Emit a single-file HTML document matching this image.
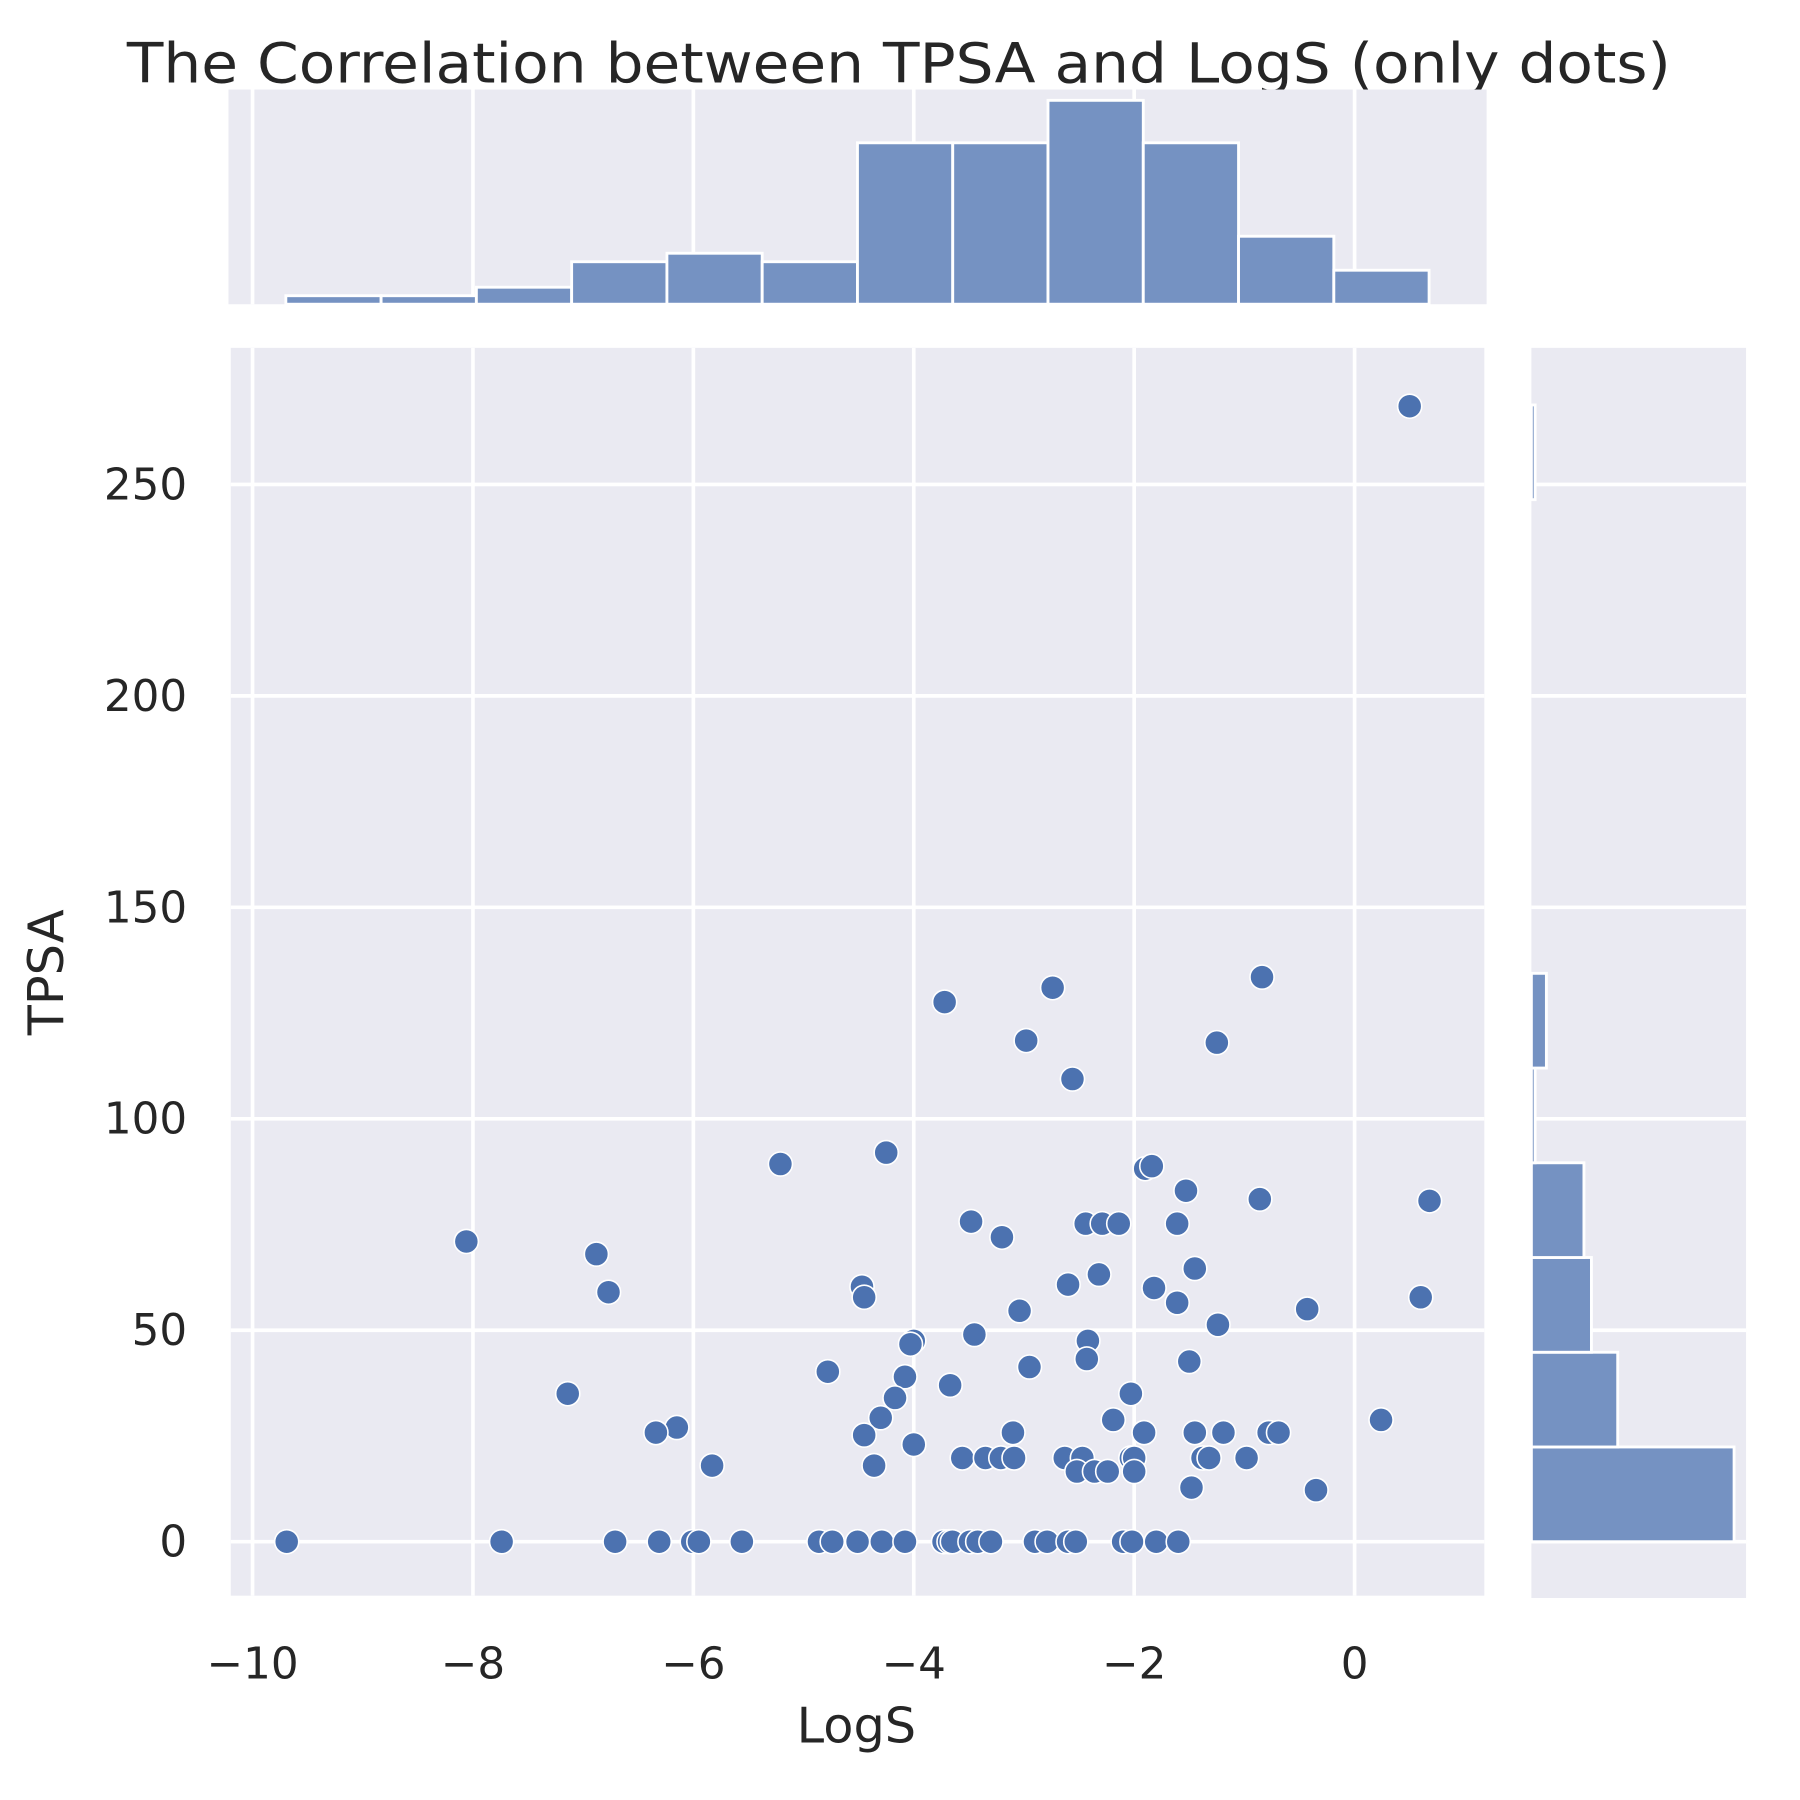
<!DOCTYPE html>
<html><head><meta charset="utf-8"><style>html,body{margin:0;padding:0;background:#fff}svg{display:block}</style></head>
<body>
<svg id="chart" width="1800" height="1800" viewBox="0 0 1568 1568" xmlns="http://www.w3.org/2000/svg" font-family="DejaVu Sans, Liberation Sans, sans-serif"></svg>
<script>
const logS = [0.5,-0.84,-2.74,-3.72,-2.98,-1.25,-2.56,-4.25,-5.21,-1.9,-1.84,-1.53,-0.86,0.68,-3.48,-2.44,-2.29,-2.14,-1.61,-3.2,-8.06,-6.88,-1.45,-2.32,-4.47,-2.6,-1.82,-6.77,-4.45,0.6,-1.61,-3.04,-0.43,-1.24,-3.45,-2.42,-4.0,-4.03,-2.43,-1.5,-2.95,-4.78,-4.08,-3.67,-7.14,-2.03,-4.17,-4.3,-2.19,0.24,-6.15,-6.34,-4.45,-3.1,-1.91,-1.45,-1.19,-0.78,-0.69,-4.0,-3.56,-3.35,-3.21,-3.09,-2.63,-2.47,-2.03,-2.0,-1.38,-1.32,-0.98,-5.83,-4.36,-2.52,-2.36,-2.24,-2.0,-1.48,-0.35,
-9.69,-7.74,-6.71,-6.31,-6.01,-5.95,-5.56,-4.86,-4.74,-4.51,-4.29,-4.08,-3.73,-3.68,-3.65,-3.49,-3.42,-3.3,-2.9,-2.79,-2.6,-2.53,-2.1,-2.02,-1.8,-1.6];
const tpsa = [268.5,133.5,131,127.6,118.5,118,109.4,92,89.3,88.2,88.8,83,81,80.6,75.7,75.2,75.2,75.2,75.2,72,71,68,64.6,63.2,60.3,60.8,60,59,57.8,57.8,56.5,54.6,55,51.3,49,47.5,47.5,46.7,43.2,42.6,41.3,40.2,39,37,35,35,34,29.3,28.8,28.8,27,25.8,25.2,25.8,25.8,25.8,25.8,25.8,25.8,23,19.8,19.8,19.8,19.8,19.8,19.8,19.8,19.8,19.8,19.8,19.8,18,18,16.6,16.6,16.6,16.6,12.8,12.2,
0,0,0,0,0,0,0,0,0,0,0,0,0,0,0,0,0,0,0,0,0,0,0,0,0,0];
const logSBinStart = -9.698;
const logSBinWidth = 0.8645;
const logSCounts = [1,1,2,5,6,5,19,19,24,19,8,4];
const tpsaBinStart = 0;
const tpsaBinWidth = 22.4;
const tpsaCounts = [54,23,16,14,1,4,0,0,0,0,0,1];
const xTicks = [-10,-8,-6,-4,-2,0];
const xTickLabels = ["\u221210","\u22128","\u22126","\u22124","\u22122","0"];
const yTicks = [0,50,100,150,200,250];
const yTickLabels = ["0","50","100","150","200","250"];

const NS = "http://www.w3.org/2000/svg";
const svg = document.getElementById('chart');
function mk(tag, attrs, parent){ const e=document.createElementNS(NS,tag); for(const k in attrs) e.setAttribute(k,attrs[k]); (parent||svg).appendChild(e); return e; }

const X = v => 1180 + v*96;
const Y = v => 1343 - v*3.684;
const mainP = {l:201,r:1293,t:303,b:1390};
const topP = {l:199,r:1295,t:78,b:265};
const sideP = {l:1334,r:1521,t:303,b:1392};
const topPx = 7.4, sidePx = 3.27;
const BG="#EAEAF2", BLUE="#4C72B0", HIST="#7592C2";

let t = mk('text',{x:783,y:72,'text-anchor':'middle','font-size':48,fill:'#262626',textLength:1345,lengthAdjust:'spacingAndGlyphs'});


t.textContent='The Correlation between TPSA and LogS (only dots)';

let b1 = mk('rect',{x:topP.l,y:topP.t,width:topP.r-topP.l,height:topP.b-topP.t,fill:BG});


let b2 = mk('rect',{x:mainP.l,y:mainP.t,width:mainP.r-mainP.l,height:mainP.b-mainP.t,fill:BG});


let b3 = mk('rect',{x:sideP.l,y:sideP.t,width:sideP.r-sideP.l,height:sideP.b-sideP.t,fill:BG});



xTicks.forEach((v,i)=>{
  let g1 = mk('line',{x1:X(v),x2:X(v),y1:mainP.t,y2:mainP.b,stroke:'#fff','stroke-width':3.2});
  
  
  let g2 = mk('line',{x1:X(v),x2:X(v),y1:topP.t,y2:topP.b,stroke:'#fff','stroke-width':3.2});
  
  
  let tl = mk('text',{x:X(v),y:1462,'text-anchor':'middle','font-size':38,fill:'#262626'});
  
  
  tl.textContent = xTickLabels[i];
});
yTicks.forEach((v,i)=>{
  let g1 = mk('line',{x1:mainP.l,x2:mainP.r,y1:Y(v),y2:Y(v),stroke:'#fff','stroke-width':3.2});
  
  
  let g2 = mk('line',{x1:sideP.l,x2:sideP.r,y1:Y(v),y2:Y(v),stroke:'#fff','stroke-width':3.2});
  
  
  let tl = mk('text',{x:163,y:Y(v)+13,'text-anchor':'end','font-size':38,fill:'#262626'});
  
  
  tl.textContent = yTickLabels[i];
});

logSCounts.forEach((c,i)=>{
  if(!c) return;
  const x0 = X(logSBinStart+i*logSBinWidth), x1 = X(logSBinStart+(i+1)*logSBinWidth);
  const h = c*topPx;
  let r = mk('rect',{x:x0,y:topP.b-h,width:x1-x0,height:h,fill:HIST,stroke:'#fff','stroke-width':2.5});
  
  
});
tpsaCounts.forEach((c,i)=>{
  if(!c) return;
  const y0 = Y(tpsaBinStart+(i+1)*tpsaBinWidth), y1 = Y(tpsaBinStart+i*tpsaBinWidth);
  const w = c*sidePx;
  let r = mk('rect',{x:sideP.l,y:y0,width:w,height:y1-y0,fill:HIST,stroke:'#fff','stroke-width':2.5});
  
  
});

logS.forEach((v,i)=>{
  let c = mk('circle',{cx:X(v),cy:Y(tpsa[i]),r:10.5,fill:BLUE,stroke:'#fff','stroke-width':1.4});
  
  
});

let xl = mk('text',{x:746,y:1518,'text-anchor':'middle','font-size':43,fill:'#262626'});


xl.textContent='LogS';
let yl = mk('text',{x:0,y:0,'text-anchor':'middle','font-size':43,fill:'#262626',transform:'translate(55,847) rotate(-90)'});


yl.textContent='TPSA';
</script>
</body></html>
